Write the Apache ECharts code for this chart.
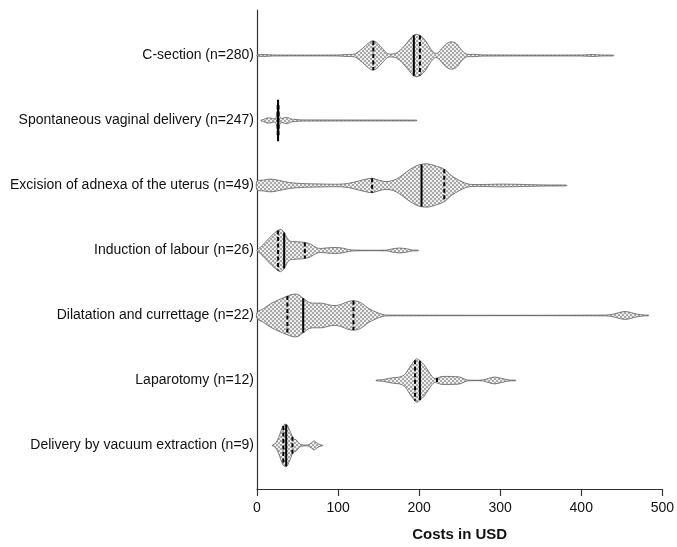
<!DOCTYPE html>
<html>
<head>
<meta charset="utf-8">
<script src="https://cdn.jsdelivr.net/npm/echarts@6/dist/echarts.min.js"></script>
<style>html,body{margin:0;padding:0;background:#fff}#c{width:677px;height:547px}</style>
</head>
<body>
<div id="c"></div>
<script>
// ---- data ----
const categories = [
  'C-section (n=280)',
  'Spontaneous vaginal delivery (n=247)',
  'Excision of adnexa of the uterus (n=49)',
  'Induction of labour (n=26)',
  'Dilatation and currettage (n=22)',
  'Laparotomy (n=12)',
  'Delivery by vacuum extraction (n=9)'
];
const xTicks = [0, 100, 200, 300, 400, 500];

// density profiles: [cost in USD, relative half-width]
const cSection = [[0,0.6],[10,0.9],[20,0.5],[100,0.5],[110,1],[118,1.2],[122,2],[130,7],[138,13],[143,15],[148,13],[155,7],[161,2],[166,1.5],[172,2.5],[180,8],[188,16],[193,20.5],[197,21.5],[202,20],[208,15],[214,7],[219,2.5],[223,2.5],[228,7],[234,12],[240,14],[246,12],[252,6],[258,1.5],[268,1.2],[278,0.6],[400,0.5],[415,1],[425,0.5],[440,0]];
const spontaneous = [[5,0],[8,1],[12,2.5],[17,2.5],[21,1.5],[23.5,3],[25,10],[26,21],[27,10],[28.5,3],[31,2],[34,3],[38,3],[42,1.5],[48,1],[55,0.6],[196,0.4],[197,0]];
const excision = [[0,4.5],[8,5.5],[17,6.5],[28,5],[40,3],[55,2],[80,1.5],[100,1.3],[112,2],[125,4.5],[135,6.5],[142,7.3],[150,5.5],[158,4],[165,4.5],[172,6.5],[180,11],[190,17],[200,21],[210,22],[220,20],[231,16.5],[240,10],[250,5],[258,2],[265,1],[280,1],[300,1.4],[320,1.2],[340,0.8],[360,0.5],[382,0]];
const induction = [[0,0.5],[4,3],[10,8],[18,15],[25,20],[29,21.5],[33,19],[37,13],[41,9.5],[47,9],[55,8.5],[60,8],[66,6.5],[73,3],[78,2],[85,2.5],[95,3],[105,2.5],[113,1],[120,0.4],[160,0.4],[166,1.5],[176,2.5],[186,1.5],[192,0.4],[199,0]];
const dilatation = [[0,3],[8,7],[17,12],[27,16],[37,19.5],[44,21.5],[50,21.5],[57,17.5],[65,13],[72,12.5],[80,12.5],[88,11],[95,10],[103,11],[112,14],[120,15],[128,13],[138,7],[148,3],[155,1],[160,0.4],[430,0.4],[440,1.5],[454,4],[468,1.5],[478,0.4],[483,0]];
const laparotomy = [[147,0],[155,0.8],[162,2],[170,3],[176,3.5],[182,6],[188,13],[193,19],[197,22],[201,20],[206,16],[211,10],[216,4],[219,2],[222,2.5],[228,4],[240,4],[250,3.5],[256,1.5],[260,0.4],[278,0.4],[285,2],[293,3.5],[302,2],[312,0.4],[319,0]];
const vacuum = [[19,0],[22,1.5],[25,5],[28,11],[31,18],[34,21.5],[37,21],[40,16],[43,10],[45,6.5],[48,6],[51,3],[54,1],[57,0.5],[63,0.5],[67,2.5],[70.5,4.5],[74,2.5],[78,0.8],[81,0]];

const profiles = [cSection, spontaneous, excision, induction, dilatation, laparotomy, vacuum];
const medians   = [193.5, 26,   203, 33.5, 57,   201, 36];
const quartile1 = [143.5, 25.5, 142, 26,   37.5, 195, 32.5];
const quartile3 = [201,   26.5, 231, 59,   119,  222, 43.7];

// ---- styling ----
const WIDTH_SCALE = 1 / 66; // half-width units per y-axis unit
const FONT = 'Liberation Sans, Arial, sans-serif';

function makePattern() {
  const cv = document.createElement('canvas');
  cv.width = 4; cv.height = 4;
  const ctx = cv.getContext('2d');
  ctx.fillStyle = '#eeeeee';
  ctx.fillRect(0, 0, 4, 4);
  ctx.fillStyle = '#a9a9a9';
  ctx.fillRect(0, 0, 2, 2);
  ctx.fillRect(2, 2, 2, 2);
  return cv;
}
const pattern = { image: makePattern(), repeat: 'repeat' };

function widthAt(prof, x) {
  for (let k = 0; k < prof.length - 1; k++) {
    const a = prof[k], b = prof[k + 1];
    if (x >= a[0] && x <= b[0]) {
      const t = (x - a[0]) / (b[0] - a[0] || 1);
      return a[1] + t * (b[1] - a[1]);
    }
  }
  return 0;
}

function renderItem(params, api) {
  const i = params.dataIndex;
  const prof = profiles[i];
  const unit = api.size([0, 1])[1] * WIDTH_SCALE;
  const top = [], bottom = [];
  prof.forEach(p => {
    const c = api.coord([p[0], i]);
    const h = Math.max(p[1] * unit, 0.35);
    top.push([c[0], c[1] - h]);
    bottom.push([c[0], c[1] + h]);
  });
  const pts = top.concat(bottom.reverse());
  const children = [{
    type: 'polygon',
    shape: { points: pts, smooth: 0.3 },
    style: { fill: pattern, stroke: '#5e5e5e', lineWidth: 0.8 }
  }];
  function vline(x, dashed) {
    const c = api.coord([x, i]);
    const h = widthAt(prof, x) * unit;
    children.push({
      type: 'line',
      shape: { x1: c[0], y1: c[1] - h, x2: c[0], y2: c[1] + h },
      style: { stroke: '#000', lineWidth: 2, lineDash: dashed ? [4, 2.5] : null }
    });
  }
  vline(quartile1[i], true);
  vline(quartile3[i], true);
  vline(medians[i], false);
  return { type: 'group', children };
}

const chart = echarts.init(document.getElementById('c'));
chart.setOption({
  animation: false,
  backgroundColor: '#fff',
  grid: { left: 257, right: 13, top: 10, bottom: 51, containLabel: false },
  xAxis: {
    type: 'value', min: xTicks[0], max: xTicks[xTicks.length - 1], interval: 100,
    axisLine: { show: true, onZero: false, lineStyle: { color: '#333', width: 1.2 } },
    axisTick: { show: true, length: 7, lineStyle: { color: '#333', width: 1.2 } },
    splitLine: { show: false },
    axisLabel: { color: '#111', fontSize: 14, margin: 12, fontFamily: FONT },
    name: 'Costs in USD', nameLocation: 'middle', nameGap: 38,
    nameTextStyle: { color: '#111', fontSize: 15, fontWeight: 'bold', fontFamily: FONT }
  },
  yAxis: {
    type: 'value', inverse: true, min: -0.7, max: 6.67,
    axisLine: { show: true, onZero: false, lineStyle: { color: '#333', width: 1.2 } },
    axisTick: { show: false },
    splitLine: { show: false },
    axisLabel: {
      show: true, customValues: categories.map((c, i) => i),
      formatter: v => categories[Math.round(v)] || '',
      color: '#111', fontSize: 14, margin: 3, fontFamily: FONT
    }
  },
  series: [{
    type: 'custom',
    renderItem: renderItem,
    encode: { x: 0, y: 1 },
    data: categories.map((c, i) => [0, i]),
    clip: false
  }]
});
</script>
</body>
</html>
